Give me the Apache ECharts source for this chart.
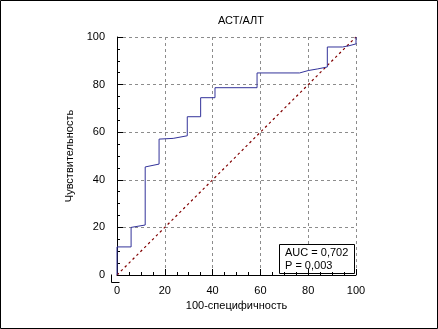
<!DOCTYPE html>
<html>
<head>
<meta charset="utf-8">
<script src="https://cdn.jsdelivr.net/npm/echarts@6/dist/echarts.min.js"></script>
<style>
  html, body { margin: 0; padding: 0; background: #fff; }
  #chart { width: 438px; height: 329px; }
</style>
</head>
<body>
<div id="chart"></div>
<script>
  // ROC curve points: 100-specificity (x) and sensitivity (y)
  const rocX = [0, 0, 5.9, 5.9, 11.8, 11.8, 17.6, 17.6, 23.5, 29.4, 29.4, 35.0, 35.0, 41.0, 41.0, 58.6, 58.6, 76.4, 80, 84, 88.0, 88.0, 94.4, 97, 100, 100];
  const rocY = [0, 11.8, 11.8, 20.0, 21.0, 45.4, 46.6, 57.1, 57.4, 58.5, 66.5, 66.5, 74.5, 74.5, 78.7, 78.7, 84.9, 84.9, 85.9, 86.6, 87.4, 95.8, 95.8, 96.3, 97.1, 100];
  const refLineX = [0, 100];
  const refLineY = [0, 100];
  const tickValues = [0, 20, 40, 60, 80, 100];
  const statLines = ['AUC = 0,702', 'P = 0,003'];

  const font = 'Liberation Sans, Arial, sans-serif';
  const chart = echarts.init(document.getElementById('chart'));

  function axisCommon(offset) {
    return {
      type: 'value',
      min: tickValues[0],
      max: tickValues[tickValues.length - 1],
      interval: 20,
      offset: offset,
      axisLine: { show: true, lineStyle: { color: '#000', width: 1 } },
      axisTick: { show: true, inside: true, length: 6, lineStyle: { color: '#000' } },
      minorTick: { show: true, splitNumber: 4, length: 3, lineStyle: { color: '#000' } },
      splitLine: { show: true, lineStyle: { color: '#8c8c8c', type: [3, 3], width: 1 } },
      axisLabel: { color: '#000', fontSize: 11, fontFamily: font },
      nameLocation: 'middle',
      nameTextStyle: { color: '#000', fontSize: 11, fontFamily: font }
    };
  }

  const xAxis = axisCommon(7);
  xAxis.name = '100-специфичность';
  xAxis.nameGap = 15;
  xAxis.axisLabel.margin = 3;

  const yAxis = axisCommon(6);
  yAxis.name = 'Чувствительность';
  yAxis.nameGap = 28;
  yAxis.axisLabel.margin = 6;

  chart.setOption({
    animation: false,
    backgroundColor: '#fff',
    title: {
      text: 'АСТ/АЛТ',
      left: 236,
      top: 10,
      textAlign: 'center',
      textStyle: { color: '#000', fontSize: 11, fontWeight: 'normal', fontFamily: font }
    },
    grid: { left: 117, top: 37, width: 239, height: 238 },
    xAxis: xAxis,
    yAxis: yAxis,
    series: [
      {
        type: 'line',
        data: refLineX.map((x, i) => [x, refLineY[i]]),
        symbol: 'none',
        lineStyle: { color: '#800000', width: 1.2, type: [2.5, 3] },
        z: 2
      },
      {
        type: 'line',
        data: rocX.map((x, i) => [x, rocY[i]]),
        symbol: 'none',
        lineStyle: { color: '#33339a', width: 1 },
        z: 3
      }
    ]
  });

  // offset axes: close the corner where the two axis lines meet
  const o = chart.convertToPixel({ gridIndex: 0 }, [0, 0]);
  const cx = Math.round(o[0]) - 6 + 0.5;
  const cy = Math.round(o[1]) + 7 + 0.5;

  chart.setOption({
    graphic: [
      {
        type: 'rect',
        shape: { x: 0.5, y: 0.5, width: 437, height: 328 },
        style: { fill: null, stroke: '#000', lineWidth: 1 },
        silent: true
      },
      {
        type: 'polyline',
        shape: { points: [[cx, cy - 8], [cx, cy], [cx + 8, cy]] },
        style: { stroke: '#000', lineWidth: 1, fill: null },
        silent: true
      },
      {
        type: 'group',
        left: 279,
        top: 244,
        z: 10,
        children: [
          {
            type: 'rect',
            shape: { x: 0.5, y: 0.5, width: 75, height: 29 },
            style: { fill: '#fff', stroke: '#000', lineWidth: 1 }
          },
          {
            type: 'text',
            x: 6,
            y: 3,
            style: { text: statLines.join('\n'), fill: '#000', font: '11px ' + font, lineHeight: 12.5 }
          }
        ]
      }
    ]
  });
</script>
</body>
</html>
